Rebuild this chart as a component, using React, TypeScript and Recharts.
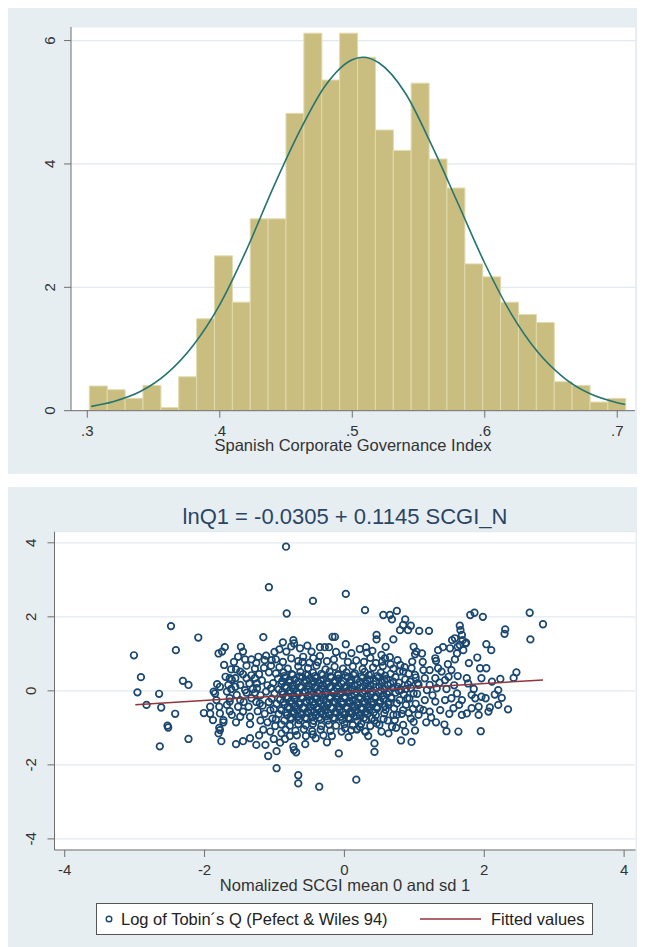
import React from "react";
import {
  ComposedChart,
  Bar,
  Line,
  Scatter,
  XAxis,
  YAxis,
  CartesianGrid,
  Legend,
} from "recharts";

// ---- top panel: histogram of the index (density) + normal curve ----
const binStart = 0.3015;
const binWidth = 0.01349;
const density = [
  0.4, 0.34, 0.2, 0.41, 0.05, 0.55, 1.49, 2.51, 1.76, 3.11, 3.11, 4.82, 6.12, 5.36, 6.12,
  5.73, 4.55, 4.22, 5.31, 4.08, 3.61, 2.38, 2.17, 1.76, 1.56, 1.43, 0.47, 0.41, 0.14, 0.2,
];
const normalX = [0.303, 0.32, 0.34, 0.36, 0.38, 0.4, 0.42, 0.44, 0.46, 0.48, 0.5, 0.508, 0.52, 0.54, 0.56, 0.58, 0.6, 0.62, 0.64, 0.66, 0.68, 0.7, 0.706];
const normalY = [0.07, 0.15, 0.31, 0.6, 1.06, 1.72, 2.6, 3.6, 4.52, 5.28, 5.69, 5.73, 5.64, 5.15, 4.3, 3.35, 2.39, 1.57, 0.95, 0.53, 0.27, 0.13, 0.1];
const histTicks = [0.3, 0.4, 0.5, 0.6, 0.7];
const densTicks = [0, 2, 4, 6];

// ---- bottom panel: lnQ vs normalised SCGI ----
const scatterTicks = [-4, -2, 0, 2, 4];
const fitX = [-2.99, 2.84];
const fitY = [-0.373, 0.295];
const seriesNames = ["Log of Tobin\u00b4s Q (Pefect & Wiles 94)", "Fitted values"];

const coreObs: [number, number][] = [
  [-0.93,0.64],[-0.81,0.6],[-0.66,0.66],[-0.52,0.61],[-0.4,0.68],[-0.27,0.58],[-0.14,0.65],[-0.02,0.6],[0.12,0.66],[0.26,0.59],[0.41,0.63],[0.55,0.67],[0.7,0.6],[0.86,0.64],
  [-0.98,0.47],[-0.87,0.5],[-0.75,0.45],[-0.63,0.51],[-0.55,0.44],[-0.45,0.49],[-0.33,0.46],[-0.21,0.52],[-0.09,0.45],[0.03,0.5],[0.15,0.47],[0.29,0.51],[0.38,0.44],[0.52,0.49],[0.66,0.46],[0.79,0.52],[0.92,0.46],
  [-0.95,0.33],[-0.84,0.36],[-0.71,0.31],[-0.6,0.37],[-0.5,0.32],[-0.41,0.35],[-0.3,0.3],[-0.19,0.36],[-0.08,0.33],[0.05,0.37],[0.17,0.31],[0.26,0.35],[0.36,0.3],[0.49,0.36],[0.6,0.32],[0.73,0.37],[0.87,0.31],[1.02,0.36],
  [-1.02,0.21],[-0.9,0.18],[-0.79,0.23],[-0.68,0.19],[-0.57,0.22],[-0.46,0.17],[-0.36,0.21],[-0.25,0.18],[-0.14,0.23],[-0.04,0.19],[0.08,0.22],[0.19,0.17],[0.31,0.21],[0.42,0.18],[0.54,0.23],[0.66,0.19],[0.78,0.22],[0.91,0.17],[1.05,0.21],
  [-1.05,0.07],[-0.94,0.04],[-0.83,0.08],[-0.73,0.05],[-0.62,0.09],[-0.52,0.03],[-0.42,0.07],[-0.31,0.04],[-0.21,0.09],[-0.1,0.05],[0.0,0.08],[0.11,0.03],[0.22,0.07],[0.34,0.04],[0.45,0.09],[0.57,0.05],[0.69,0.08],[0.81,0.03],[0.95,0.07],
  [-1.0,-0.07],[-0.88,-0.1],[-0.77,-0.06],[-0.66,-0.09],[-0.56,-0.05],[-0.47,-0.11],[-0.37,-0.07],[-0.27,-0.1],[-0.16,-0.06],[-0.06,-0.09],[0.05,-0.05],[0.15,-0.11],[0.26,-0.07],[0.38,-0.1],[0.49,-0.06],[0.61,-0.09],[0.73,-0.05],[0.85,-0.1],[0.99,-0.07],
  [-1.04,-0.21],[-0.92,-0.24],[-0.81,-0.2],[-0.71,-0.23],[-0.6,-0.19],[-0.5,-0.25],[-0.4,-0.21],[-0.3,-0.24],[-0.2,-0.19],[-0.1,-0.23],[0.01,-0.2],[0.12,-0.25],[0.23,-0.21],[0.33,-0.24],[0.44,-0.19],[0.56,-0.23],[0.67,-0.2],[0.79,-0.25],[0.93,-0.21],
  [-0.97,-0.35],[-0.86,-0.38],[-0.75,-0.34],[-0.64,-0.37],[-0.54,-0.33],[-0.44,-0.39],[-0.34,-0.35],[-0.24,-0.38],[-0.13,-0.33],[-0.03,-0.37],[0.08,-0.34],[0.19,-0.39],[0.29,-0.35],[0.4,-0.38],[0.51,-0.33],[0.63,-0.37],[0.75,-0.34],[0.88,-0.38],
  [-1.01,-0.49],[-0.9,-0.52],[-0.79,-0.48],[-0.68,-0.51],[-0.58,-0.47],[-0.48,-0.53],[-0.38,-0.49],[-0.28,-0.52],[-0.17,-0.47],[-0.07,-0.51],[0.04,-0.48],[0.15,-0.53],[0.25,-0.49],[0.36,-0.52],[0.47,-0.47],[0.59,-0.51],[0.71,-0.48],[0.84,-0.52],[0.98,-0.49],
  [-0.94,-0.63],[-0.82,-0.66],[-0.72,-0.62],[-0.61,-0.65],[-0.51,-0.61],[-0.41,-0.67],[-0.31,-0.63],[-0.21,-0.66],[-0.11,-0.61],[0.0,-0.65],[0.11,-0.62],[0.22,-0.67],[0.33,-0.63],[0.45,-0.66],[0.57,-0.61],[0.7,-0.65],[0.82,-0.62],
  [-0.98,-0.77],[-0.86,-0.8],[-0.76,-0.76],[-0.65,-0.79],[-0.54,-0.75],[-0.44,-0.81],[-0.34,-0.77],[-0.24,-0.8],[-0.14,-0.75],[-0.03,-0.79],[0.08,-0.76],[0.19,-0.81],[0.31,-0.77],[0.43,-0.8],[0.56,-0.76],[0.72,-0.79],
  [-0.9,-0.91],[-0.78,-0.94],[-0.66,-0.9],[-0.55,-0.93],[-0.45,-0.89],[-0.33,-0.95],[-0.22,-0.91],[-0.12,-0.94],[0.0,-0.9],[0.12,-0.93],[0.24,-0.89],[0.37,-0.95],[0.5,-0.92],
  [-0.84,-1.05],[-0.7,-1.08],[-0.58,-1.04],[-0.46,-1.09],[-0.34,-1.05],[-0.2,-1.08],[-0.04,-1.1],[0.1,-1.06],[0.18,-1.04],[0.3,-1.1],
  [-0.86,0.4],[-0.74,0.43],[-0.64,0.39],[-0.52,0.42],[-0.42,0.4],[-0.31,0.43],[-0.2,0.39],[-0.09,0.42],[0.02,0.4],[0.13,0.43],[0.24,0.39],[0.35,0.42],[0.47,0.4],[0.58,0.41],
  [-0.89,0.26],[-0.78,0.29],[-0.66,0.25],[-0.55,0.28],[-0.44,0.26],[-0.34,0.29],[-0.24,0.25],[-0.13,0.28],[-0.02,0.26],[0.1,0.29],[0.22,0.25],[0.33,0.28],[0.45,0.26],[0.57,0.29],[0.7,0.25],
  [-0.85,0.12],[-0.74,0.15],[-0.63,0.11],[-0.52,0.14],[-0.41,0.12],[-0.31,0.15],[-0.2,0.11],[-0.09,0.14],[0.03,0.12],[0.14,0.15],[0.26,0.11],[0.37,0.14],[0.5,0.12],[0.62,0.15],[0.76,0.11],
  [-0.89,-0.02],[-0.78,0.01],[-0.68,-0.03],[-0.57,0.0],[-0.47,-0.02],[-0.36,0.01],[-0.26,-0.03],[-0.15,0.0],[-0.05,-0.02],[0.06,0.01],[0.17,-0.03],[0.29,0.0],[0.4,-0.02],[0.52,0.01],[0.64,-0.03],[0.78,0.0],
  [-0.83,-0.16],[-0.72,-0.13],[-0.61,-0.17],[-0.51,-0.14],[-0.41,-0.16],[-0.32,-0.13],[-0.21,-0.17],[-0.11,-0.14],[0.0,-0.16],[0.1,-0.13],[0.21,-0.17],[0.32,-0.14],[0.44,-0.16],[0.55,-0.13],[0.67,-0.17],
  [-0.87,-0.3],[-0.76,-0.27],[-0.65,-0.31],[-0.55,-0.28],[-0.45,-0.3],[-0.35,-0.27],[-0.25,-0.31],[-0.15,-0.28],[-0.04,-0.3],[0.07,-0.27],[0.18,-0.31],[0.28,-0.28],[0.39,-0.3],[0.51,-0.27],[0.63,-0.31],
  [-0.81,-0.44],[-0.7,-0.41],[-0.59,-0.45],[-0.49,-0.42],[-0.39,-0.44],[-0.29,-0.41],[-0.19,-0.45],[-0.08,-0.42],[0.03,-0.44],[0.14,-0.41],[0.24,-0.45],[0.35,-0.42],[0.46,-0.44],[0.58,-0.41],
  [-0.84,-0.58],[-0.73,-0.55],[-0.63,-0.59],[-0.53,-0.56],[-0.43,-0.58],[-0.33,-0.55],[-0.23,-0.59],[-0.13,-0.56],[-0.02,-0.58],[0.09,-0.55],[0.2,-0.59],[0.31,-0.56],[0.42,-0.58],
  [-0.77,-0.72],[-0.66,-0.69],[-0.56,-0.73],[-0.46,-0.7],[-0.36,-0.72],[-0.26,-0.69],[-0.16,-0.73],[-0.05,-0.7],[0.06,-0.72],[0.17,-0.69],[0.28,-0.73],
];

// observations away from the centre
const outerObs: [number, number][] = [
  [-3.01,0.96],[-2.91,0.37],[-2.96,-0.04],[-2.65,-0.08],[-2.83,-0.38],[-2.62,-0.45],[-2.42,-0.62],[-2.53,-0.94],[-2.52,-0.99],[-2.64,-1.5],[-2.23,-1.3],[-2.48,1.75],[-2.41,1.1],[-2.09,1.44],[-2.31,0.27],[-2.23,0.16],[-2.01,-0.6],[-1.92,-0.62],[-1.88,-0.79],
  [-1.82,0.18],[-1.85,-0.07],[-1.83,-0.25],[-1.79,-0.43],[-1.8,1.01],[-1.71,1.18],[-1.72,0.7],[-1.7,0.38],[-1.66,0.16],[-1.68,-0.02],[-1.64,-0.2],[-1.78,-0.61],[-1.73,-0.79],[-1.78,-1.06],[-1.87,-0.02],[-1.92,-0.43],[-1.79,-1.0],[-1.8,-1.15],[-1.73,-0.85],[-1.76,-1.36],[-1.68,-0.38],[-1.78,0.11],[-1.62,0.58],[-1.62,0.05],[-1.64,-0.55],[-1.61,0.3],[-1.75,1.06],[-1.64,-0.29],[-1.61,-0.65],[-1.64,0.34],
  [-1.48,1.19],[-1.45,1.06],[-1.52,0.92],[-1.55,-1.44],[-1.45,-1.36],[-1.35,-1.28],[-1.56,0.11],[-1.49,0.16],[-1.42,0.02],[-1.54,-0.11],[-1.49,-0.25],[-1.52,-0.43],[-1.45,-0.56],[-1.37,-0.43],[-1.35,-0.7],[-1.49,-0.7],[-1.33,-0.2],[-1.4,0.34],[-1.49,0.52],[-1.56,0.34],[-1.55,0.58],[-1.45,0.45],[-1.4,0.68],[-1.58,0.78],[-1.42,0.85],[-1.35,-0.9],[-1.55,-0.85],[-1.31,0.05],[-1.36,0.2],[-1.33,0.42],[-1.4,-0.05],[-1.44,-0.3],
  [-1.16,1.45],[-1.08,2.8],[-1.04,0.83],[-1.14,0.83],[-1.23,0.92],[-1.33,0.85],[-1.26,-1.46],[-1.13,-1.46],[-1.09,-1.76],[-1.28,0.6],[-1.22,0.45],[-1.15,0.62],[-1.08,0.5],[-1.25,0.2],[-1.18,0.28],[-1.1,0.15],[-1.28,0.34],[-1.25,0.07],[-1.28,-0.05],[-1.2,-0.12],[-1.12,-0.02],[-1.21,-0.34],[-1.26,-0.3],[-1.17,-0.4],[-1.08,-0.3],[-1.24,-0.55],[-1.14,-0.62],[-1.06,-0.52],[-1.2,-0.8],[-1.1,-0.85],[-1.03,-0.75],[-1.16,-1.05],[-1.06,-1.1],[-1.22,-1.2],[-1.12,0.95],[-1.0,1.05],[-1.26,0.75],[-1.05,0.68],
  [-0.835,3.895],[-0.825,2.09],[-0.88,1.31],[-0.73,1.37],[-0.72,1.28],[-0.83,1.06],[-0.97,-1.63],[-0.97,-2.09],[-0.73,-1.51],[-0.69,-1.66],[-0.72,-1.6],[-0.93,1.12],[-0.76,1.2],[-0.98,0.85],[-0.88,0.78],[-0.76,0.88],[-0.99,-0.95],[-0.9,-1.15],[-0.78,-1.22],[-0.85,-1.3],[-1.01,-1.3],[-0.66,0.8],[-0.92,-1.4],
  [-0.45,2.43],[-0.635,1.15],[-0.47,1.06],[-0.59,0.92],[-0.445,0.88],[-0.66,-2.28],[-0.66,-2.5],[-0.56,-1.44],[-0.41,-1.28],[-0.53,1.22],[-0.6,0.78],[-0.5,0.76],[-0.68,-1.2],[-0.55,-1.22],[-0.45,-1.18],
  [-0.36,-2.59],[-0.35,1.18],[-0.28,1.18],[-0.22,1.18],[-0.35,0.94],[-0.17,1.46],[-0.25,-1.39],[-0.08,-1.69],[-0.38,0.78],[-0.25,0.8],[-0.15,0.85],[-0.3,-1.2],[-0.18,-1.22],[-0.12,1.05],
  [0.02,2.62],[0.02,1.26],[-0.135,1.46],[0.17,-2.4],[0.18,-1.04],[0.22,1.13],[0.1,1.02],[-0.02,0.95],[0.05,0.78],[0.17,0.82],[0.06,-1.25],[0.01,-1.01],[0.06,-0.74],
  [0.295,2.18],[0.31,1.18],[0.32,1.03],[0.4,1.08],[0.37,0.89],[0.46,1.51],[0.46,1.39],[0.3,-1.1],[0.43,-1.42],[0.43,-1.65],[0.22,-0.97],[0.39,-0.74],[0.46,-0.88],[0.28,0.78],[0.45,0.75],[0.34,-1.22],
  [0.556,2.05],[0.65,2.05],[0.75,2.16],[0.68,1.93],[0.795,1.64],[0.59,1.19],[0.7,1.39],[0.53,0.97],[0.58,0.88],[0.65,0.91],[0.76,0.83],[0.54,0.79],[0.53,-1.1],[0.63,-1.15],[0.74,-1.0],[0.81,-1.34],[0.68,-0.97],[0.75,-0.65],[0.62,-0.8],[0.66,0.72],[0.8,0.7],
  [0.87,1.93],[0.84,1.78],[0.95,1.76],[0.91,1.64],[1.07,1.62],[0.99,1.19],[1.03,1.06],[1.01,0.99],[0.97,0.79],[0.87,-1.1],[0.96,-1.38],[1.01,-1.07],[0.84,-0.92],[0.99,-0.84],[1.06,-0.65],[0.96,0.61],[0.84,0.52],[1.01,0.43],[0.94,0.25],[1.06,0.16],[0.9,-0.2],[1.02,-0.35],[0.92,-0.6],[1.04,-0.08],[0.88,0.05],[1.08,-0.48],[0.95,-0.75],
  [1.21,1.62],[1.11,1.01],[1.3,0.88],[1.31,0.81],[1.34,1.1],[1.13,0.56],[1.22,0.56],[1.34,0.61],[1.15,0.34],[1.3,0.34],[1.22,0.16],[1.32,0.07],[1.13,-0.52],[1.15,-0.25],[1.22,-0.56],[1.3,-0.29],[1.37,-0.52],[1.31,-0.85],[1.39,0.52],[1.18,0.02],[1.26,-0.12],[1.12,0.78],[1.24,-0.72],[1.36,0.22],[1.17,-0.85],
  [1.41,1.18],[1.51,1.15],[1.54,1.37],[1.58,1.42],[1.62,1.19],[1.61,1.01],[1.65,1.76],[1.66,1.64],[1.68,1.51],[1.69,1.37],[1.65,1.24],[1.7,1.1],[1.43,-0.91],[1.46,-1.09],[1.63,-1.1],[1.44,0.29],[1.49,0.38],[1.53,0.56],[1.44,-0.25],[1.53,-0.2],[1.56,-0.47],[1.61,-0.07],[1.64,-0.38],[1.68,-0.25],[1.68,-0.65],[1.46,0.05],[1.57,0.15],[1.5,-0.62],[1.62,0.4],[1.48,0.72],[1.58,0.85],
  [1.74,1.3],[1.8,2.05],[1.86,2.11],[1.98,2.0],[1.95,-1.09],[1.96,-0.16],[1.75,0.34],[1.77,0.2],[1.94,0.61],[1.96,0.34],[1.92,-0.65],[1.92,-0.43],[1.87,-0.2],[1.82,-0.11],[1.75,-0.61],[1.82,-0.47],[1.73,1.28],[1.78,0.75],[1.85,0.05],[1.9,0.9],
  [2.03,1.26],[2.1,1.1],[2.03,0.61],[2.11,0.25],[2.23,0.32],[2.25,-0.19],[2.2,-0.38],[2.34,-0.5],[2.06,-0.56],[2.02,-0.2],[2.08,-0.45],[2.3,1.66],[2.29,1.54],[2.46,0.5],[2.42,0.35],[2.65,2.11],[2.66,1.39],[2.84,1.8],[2.15,-0.1],[2.2,0.02],
];

const histData = density.map((d, i) => ({
  bin: (binStart + binWidth * (i + 0.5)).toFixed(4),
  density: d,
}));
const normalData = normalX.map((x, i) => ({ x, y: normalY[i] }));
const obsData = [...coreObs, ...outerObs].map(([x, y]) => ({ x, y }));
const fitData = fitX.map((x, i) => ({ x, y: fitY[i] }));

const AXIS = "#6e6e6e";
const TXT = "#333";
const PANEL = "#e7eef1";
const GRID = "#e3eaed";

const leftTick = (shift: number) => (props: any) => {
  const tx = props.x + shift;
  return (
    <text x={tx} y={props.y} transform={`rotate(-90, ${tx}, ${props.y})`} textAnchor="middle" fontSize={15} fill={TXT}>
      {props.payload.value}
    </text>
  );
};

const bottomTick = (dy: number, fmt: (v: number) => string) => (props: any) => (
  <text x={props.x} y={props.y + dy} textAnchor="middle" fontSize={15} fill={TXT}>
    {fmt(props.payload.value)}
  </text>
);

const hollowCircle = (p: any) => (
  <circle cx={p.cx} cy={p.cy} r={3.3} fill="none" stroke="#1a476f" strokeWidth={1.7} />
);
const noMarker = () => <g />;

function FitLegend() {
  return (
    <div
      style={{
        position: "relative",
        width: 497,
        height: 32,
        boxSizing: "border-box",
        border: "1px solid #555",
        background: "#fff",
        fontSize: 16.5,
        lineHeight: "19px",
        color: "#222",
      }}
    >
      <svg style={{ position: "absolute", left: 7, top: 10 }} width={10} height={10}>
        <circle cx={5} cy={5} r={2.8} fill="none" stroke="#1a476f" strokeWidth={1.4} />
      </svg>
      <span style={{ position: "absolute", left: 24, top: 6, whiteSpace: "nowrap" }}>{seriesNames[0]}</span>
      <svg style={{ position: "absolute", left: 323, top: 14 }} width={61} height={2}>
        <line x1={0} y1={1} x2={61} y2={1} stroke="#90353b" strokeWidth={1.5} />
      </svg>
      <span style={{ position: "absolute", left: 394, top: 6, whiteSpace: "nowrap" }}>{seriesNames[1]}</span>
    </div>
  );
}

export default function App() {
  return (
    <div style={{ width: 630, fontFamily: "'Liberation Sans', Arial, sans-serif" }}>
      {/* histogram panel */}
      <div style={{ width: 630, height: 466, background: PANEL }}>
        <ComposedChart width={630} height={466} data={histData} margin={{ top: 19, right: 3, bottom: 23.3, left: 33 }} barCategoryGap={0} barGap={0}>
          <CartesianGrid horizontal vertical={false} fill="#fff" stroke={GRID} strokeWidth={1.2} />
          <XAxis xAxisId="bins" dataKey="bin" type="category" hide height={0} padding={{ left: 18.3, right: 9.3 }} />
          <XAxis
            xAxisId="idx"
            dataKey="x"
            type="number"
            domain={[0.2877, 0.7134]}
            allowDataOverflow
            ticks={histTicks}
            interval={0}
            height={40}
            tickSize={7}
            tickMargin={0}
            stroke={AXIS}
            tick={bottomTick(18, (v) => v.toFixed(1).replace(/^0/, ""))}
            label={{ value: "Spanish Corporate Governance Index", position: "insideBottom", offset: 0, fontSize: 16.5, fill: TXT }}
          />
          <YAxis
            type="number"
            domain={[0, 6.22]}
            allowDataOverflow
            ticks={densTicks}
            interval={0}
            width={30}
            tickSize={7}
            tickMargin={0}
            stroke={AXIS}
            tick={leftTick(-8.5)}
          />
          <Bar xAxisId="bins" dataKey="density" fill="#c9bd7f" stroke="#e2dbb0" strokeWidth={1} isAnimationActive={false} />
          <Line
            xAxisId="idx"
            data={normalData}
            dataKey="y"
            type="monotone"
            stroke="#247470"
            strokeWidth={1.6}
            dot={false}
            isAnimationActive={false}
          />
        </ComposedChart>
      </div>

      {/* scatter panel */}
      <div style={{ position: "relative", width: 630, height: 460, background: PANEL, marginTop: 13 }}>
        <div
          style={{
            position: "absolute",
            left: 46.5,
            top: 19.4,
            width: 581,
            textAlign: "center",
            fontSize: 22,
            lineHeight: "22px",
            color: "#2a4566",
            zIndex: 1,
          }}
        >
          lnQ1 = -0.0305 + 0.1145 SCGI_N
        </div>
        <ComposedChart width={630} height={460} margin={{ top: 44.7, right: 2.5, bottom: 56, left: 16.5 }}>
          <CartesianGrid horizontal vertical={false} fill="#fff" stroke={GRID} strokeWidth={1.2} />
          <XAxis
            dataKey="x"
            type="number"
            domain={[-4.146, 4.163]}
            allowDataOverflow
            ticks={scatterTicks}
            interval={0}
            height={41}
            tickSize={7}
            tickMargin={0}
            stroke={AXIS}
            tick={bottomTick(18, (v) => String(v))}
            label={{ value: "Nomalized SCGI mean 0 and sd 1", position: "insideBottom", offset: 0, fontSize: 16.5, fill: TXT }}
          />
          <YAxis
            dataKey="y"
            type="number"
            domain={[-4.3, 4.3]}
            allowDataOverflow
            ticks={scatterTicks}
            interval={0}
            width={30}
            tickSize={7}
            tickMargin={0}
            stroke={AXIS}
            tick={leftTick(-11)}
          />
          <Scatter name={seriesNames[0]} data={obsData} shape={hollowCircle} isAnimationActive={false} />
          <Scatter
            name={seriesNames[1]}
            data={fitData}
            shape={noMarker}
            line={{ stroke: "#90353b", strokeWidth: 1.5 }}
            legendType="line"
            isAnimationActive={false}
          />
          <Legend
            layout="horizontal"
            verticalAlign="middle"
            align="center"
            wrapperStyle={{ left: 88, top: 416, width: 497, height: 32 }}
            content={() => <FitLegend />}
          />
        </ComposedChart>
      </div>
    </div>
  );
}
